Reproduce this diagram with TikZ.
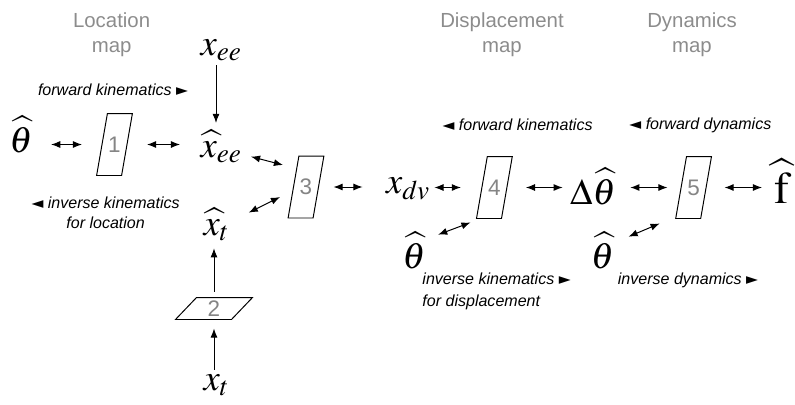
\documentclass[tikz,border=0pt]{standalone}
\usepackage{fix-cm}
\usepackage{amsmath}
\usepackage{mathptmx}
\usepackage{fontspec}
\setsansfont{Liberation Sans}
\newfontfamily\symfont{DejaVu Sans}
\usetikzlibrary{arrows.meta,calc}
\definecolor{headgray}{HTML}{8C8C8C}
\definecolor{numgray}{HTML}{858585}
\newcommand{\rtri}{{\symfont\fontsize{11}{11}\selectfont ►}}
\newcommand{\ltri}{{\symfont\fontsize{11}{11}\selectfont ◄}}

\begin{document}
\begin{tikzpicture}[
  >={Latex[length=6.5pt,width=5pt]},
  line width=0.7pt,
  link/.style={<->, line width=0.7pt},
  flow/.style={->, line width=0.7pt},
  slant/.style={inner sep=0pt, text=numgray, font=\sffamily\fontsize{16}{16}\selectfont,
    append after command={\pgfextra{\draw ([xshift=#1]\tikzlastnode.north west) -- ([xshift=#1]\tikzlastnode.north east)
      -- ([xshift=-#1]\tikzlastnode.south east) -- ([xshift=-#1]\tikzlastnode.south west) -- cycle;}}},
  mapbox/.style={slant=0.135cm, minimum width=0.6cm, minimum height=1.525cm},
  flatbox/.style={slant=0.2625cm, minimum width=1.375cm, minimum height=0.525cm},
  var/.style={inner sep=0pt, font=\fontsize{26}{30}\selectfont},
  note/.style={inner sep=0pt, font=\sffamily\itshape\fontsize{11.4}{14}\selectfont},
  head/.style={align=center, text=headgray, font=\sffamily\fontsize{14.5}{17.8}\selectfont}
]
  \useasboundingbox (0,0) rectangle (19.875,-10.125);

  % map titles
  \node[head] (hloc) at (2.79,-0.875) {Location\\map};
  \node[head] (hdis) at (12.55,-0.875) {Displacement\\map};
  \node[head] (hdyn) at (17.3,-0.875) {Dynamics\\map};

  % variables
  \node[var, anchor=base] (th1) at (0.525,-3.8) {$\widehat{\theta}$};
  \node[var, anchor=base] (xee) at (5.525,-1.375) {$x_{ee}$};
  \node[var, anchor=base] (xhee) at (5.525,-3.925) {$\widehat{x}_{ee}$};
  \node[var, anchor=base] (xht) at (5.41,-5.875) {$\widehat{x}_t$};
  \node[var, anchor=base] (xt) at (5.41,-9.75) {$x_t$};
  \node[var, anchor=base] (xdv) at (10.2,-4.825) {$x_{dv}$};
  \node[var, anchor=base] (dth) at (14.825,-5.1) {$\Delta\widehat{\theta}$};
  \node[var, anchor=base, font=\fontsize{32}{38}\selectfont] (fh) at (19.55,-5.075) {$\widehat{\mathrm{f}}$};
  \node[var, anchor=base] (th4) at (10.35,-6.7) {$\widehat{\theta}$};
  \node[var, anchor=base] (th5) at (15.06,-6.7) {$\widehat{\theta}$};

  % maps
  \node[mapbox] (b1) at (2.8625,-3.6125) {1};
  \node[flatbox] (b2) at (5.35,-7.7125) {2};
  \node[mapbox] (b3) at (7.65,-4.675) {3};
  \node[mapbox] (b4) at (12.36,-4.6875) {4};
  \node[mapbox] (b5) at (17.34,-4.6875) {5};

  % direction notes
  \node[note] (fk1) at (2.825,-2.25) {forward kinematics \rtri};
  \node[note, align=center] (ik1) at (2.64,-5.325) {\ltri\ inverse kinematics\\for location};
  \node[note] (fk4) at (12.94,-3.125) {\ltri\ forward kinematics};
  \node[note] (fd5) at (17.51,-3.125) {\ltri\ forward dynamics};
  \node[note, align=left, anchor=west, font=\sffamily\itshape\fontsize{11.4}{16}\selectfont] (ik4) at (10.55,-7.29) {inverse kinematics \rtri\\for displacement};
  \node[note] (id5) at (17.2,-7.0) {inverse dynamics \rtri};

  % connections
  \draw[link, shorten <=0.45cm, shorten >=0.5cm] (b1.west -| th1.east) -- (b1.west);
  \draw[link, shorten <=0.5cm, shorten >=0.5cm] (b1.east) -- (b1.east -| xhee.west);
  \draw[flow, shorten <=0.1cm, shorten >=0.175cm] ([xshift=-0.125cm]xee.south) -- ([xshift=-0.125cm]xhee.north);
  \draw[link] ($(xhee.east)+(0.225,-0.25)$) -- ($(b3.west)+(-0.2625,0.55)$);
  \draw[link] ($(xht.east)+(0.475,0.3)$) -- ($(b3.west)+(-0.3375,-0.25)$);
  \draw[flow, shorten <=0.15cm, shorten >=0.175cm] (b2.north) -- (b2.north |- xht.south);
  \draw[flow, shorten <=0.1cm, shorten >=0.225cm] (b2.south |- xt.north) -- (b2.south);
  \draw[link, shorten <=0.375cm, shorten >=0.575cm] (b3.east) -- (b3.east -| xdv.west);
  \draw[link, shorten <=0.1cm, shorten >=0.525cm] (xdv.east |- b4.west) -- (b4.west);
  \draw[link, shorten <=0.475cm, shorten >=0.175cm] (b4.east) -- (b4.east -| dth.west);
  \draw[link, shorten <=0.35cm, shorten >=0.34cm] (dth.east |- b5.west) -- (b5.west);
  \draw[link, shorten <=0.46cm, shorten >=0.3cm] (b5.east) -- (b5.east -| fh.west);
  \draw[link] ($(th4.north east)+(0.3,-0.075)$) -- ($([xshift=-0.135cm]b4.south west)+(-0.15,-0.1)$);
  \draw[link] ($(th5.north east)+(0.35,-0.125)$) -- ($([xshift=-0.135cm]b5.south west)+(-0.4,-0.125)$);
\end{tikzpicture}
\end{document}
